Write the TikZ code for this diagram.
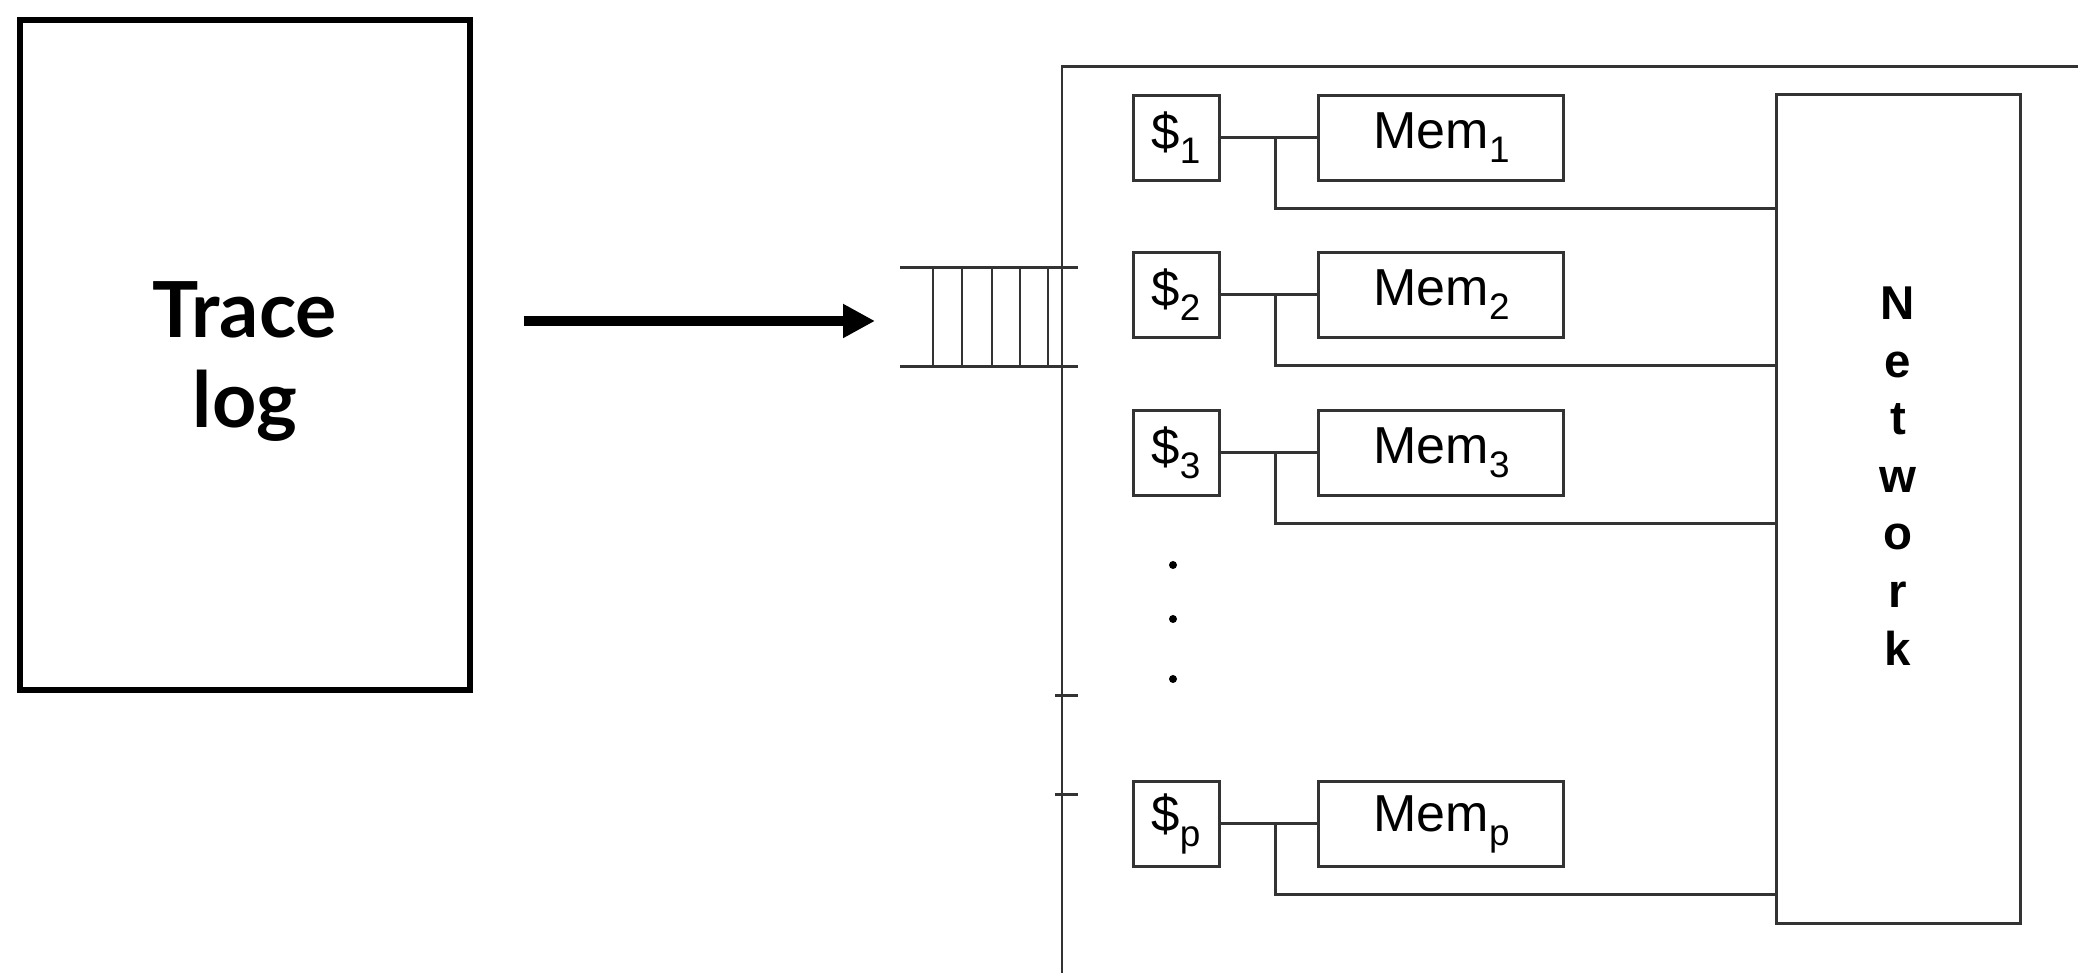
\documentclass[tikz,border=0pt]{standalone}
\usepackage{fontspec}
\setmainfont{Liberation Sans}
\newfontfamily\tracefont{Lato}
\usetikzlibrary{positioning,arrows.meta}

\newcommand{\lowidx}[1]{\raisebox{-4pt}{\fontsize{10.5}{11}\selectfont #1}}

\tikzstyle{wire} = [line width=0.85pt, draw=black!80]
\tikzstyle{cachebox} = [rectangle, minimum width=8.6mm, minimum height=8.5mm, inner sep=0pt, text centered, draw=black!80, line width=0.85pt, font=\fontsize{14.5}{16}\selectfont]
\tikzstyle{membox} = [rectangle, minimum width=24.5mm, minimum height=8.5mm, inner sep=0pt, text centered, draw=black!80, line width=0.85pt, font=\fontsize{14.8}{16}\selectfont]
\tikzstyle{flow} = [line width=2.9pt, -{Triangle[length=3.2mm,width=3.2mm]}]

\begin{document}
\begin{tikzpicture}[x=0.1mm, y=-0.1mm]
		\useasboundingbox (0,0) rectangle (2078,973);

		% trace log
		\node[rectangle, draw=black, line width=1.55pt, minimum width=45mm, minimum height=67mm](trace) at (245,355){};
		\node[align=center, font=\tracefont\bfseries\fontsize{22}{25.6}\selectfont](tracelbl) at (245,362){Trace\\log};

		% simulator frame
		\draw[wire] (2100,67) -- (1062,67) -- (1062,990);
		\draw[wire] (1055,696) -- (1078,696);
		\draw[wire] (1055,795) -- (1078,795);

		% input queue
		\coordinate (q) at (900,321);
		\draw[wire] (900,268) -- (1078,268);
		\draw[wire] (900,367) -- (1078,367);
		\foreach \x in {933,962,992,1020,1048}
			\draw[wire] (\x,268) -- (\x,367);

		\draw[flow, shorten <=5.1mm, shorten >=2.5mm] (trace.east |- q) -- (q);

		% network
		\node[rectangle, draw=black!80, line width=0.85pt, minimum width=24.4mm, minimum height=82.9mm](net) at (1898,509.5){};
		\node[align=center, font=\bfseries\fontsize{13.5}{16.4}\selectfont](netlbl) at (1898,476){N\\e\\t\\w\\o\\r\\k};

		% caches and memories
		\foreach \i/\y in {1/138, 2/295, 3/453, p/824}{
			\node[cachebox](c\i) at (1176,\y){\$\lowidx{\i}};
			\node[membox, right=9.7mm of c\i](m\i){Mem\lowidx{\i}};
			\coordinate (j\i) at (1275,\y);
			\coordinate (b\i) at (1275,\y+71);
			\draw[wire] (c\i) -- (m\i);
			\draw[wire] (j\i) -- (b\i) -- (net.west |- b\i);
		}

		% more caches
		\foreach \y in {565,619,679}
			\fill (1173,\y) circle (4);
	\end{tikzpicture}
\end{document}
